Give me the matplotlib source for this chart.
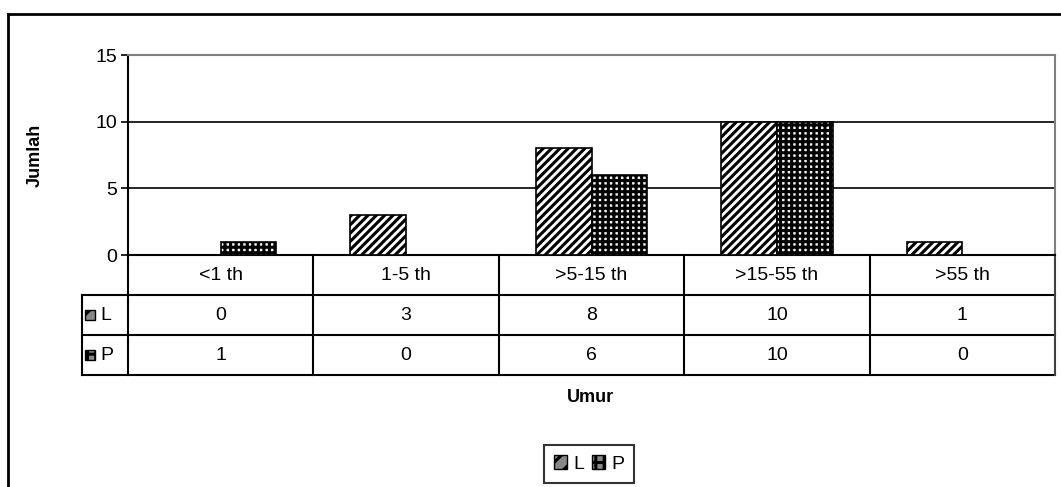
import matplotlib
matplotlib.use("Agg")
import matplotlib.pyplot as plt
from matplotlib.patches import Rectangle, Patch
from matplotlib.lines import Line2D
import matplotlib.transforms as mtransforms

categories = ["<1 th", "1-5 th", ">5-15 th", ">15-55 th", ">55 th"]
series_names = ["L", "P"]
L_values = [0, 3, 8, 10, 1]
P_values = [1, 0, 6, 10, 0]
y_ticks = [0, 5, 10, 15]

plt.rcParams['font.family'] = ['Liberation Sans', 'DejaVu Sans']
plt.rcParams['hatch.linewidth'] = 2.2

FS = 14
W, H = 1061, 487
fig = plt.figure(figsize=(W / 100, H / 100), dpi=100)
ax = fig.add_axes([128 / W, (H - 255) / H, (1055 - 128) / W, 200 / H])

n = len(categories)
bw = 0.30
for i in range(n):
    xc = i + 0.5
    if L_values[i] > 0:
        ax.bar(xc - bw / 2, L_values[i], width=bw, facecolor="white", edgecolor="black",
               hatch="////", linewidth=1.2, zorder=3)
    if P_values[i] > 0:
        ax.bar(xc + bw / 2, P_values[i], width=bw, facecolor="#f2f2f2",
               edgecolor="black", hatch="+++", linewidth=1.2, zorder=3)

ax.set_xlim(0, n)
ax.set_ylim(0, 15)
ax.set_yticks(y_ticks)
ax.set_xticks([])
ax.tick_params(axis="y", direction="out", length=5, width=1.2, labelsize=FS, pad=3)
for v in y_ticks[1:-1]:
    ax.axhline(v, color="black", linewidth=1.2, zorder=1)
for s in ['top', 'right']:
    ax.spines[s].set_color("#808080")
for s in ax.spines.values():
    s.set_linewidth(1.5)
ax.set_ylabel("Jumlah", fontsize=13, fontweight="bold", labelpad=37)

# data table below
tr = mtransforms.blended_transform_factory(ax.transData, ax.transAxes)
rh = 0.2
unit = (1055 - 128) / n
lab_w = 46 / unit
lw = 1.5
def hline(x0, x1, y, color="black"):
    ax.add_line(Line2D([x0, x1], [y, y], transform=tr, color=color, lw=lw, clip_on=False))
def vline(x, y0, y1, color="black"):
    ax.add_line(Line2D([x, x], [y0, y1], transform=tr, color=color, lw=lw, clip_on=False))

hline(-lab_w, n, -rh)
hline(-lab_w, n, -2 * rh)
hline(-lab_w, n, -3 * rh)
for i in range(n):
    vline(i, 0, -3 * rh)
vline(n, 0, -3 * rh, color="#404040")
vline(-lab_w, -rh, -3 * rh)

for i, c in enumerate(categories):
    ax.text(i + 0.5, -0.5 * rh, c, transform=tr, ha="center", va="center", fontsize=FS)
    ax.text(i + 0.5, -1.5 * rh, str(L_values[i]), transform=tr, ha="center", va="center", fontsize=FS)
    ax.text(i + 0.5, -2.5 * rh, str(P_values[i]), transform=tr, ha="center", va="center", fontsize=FS)

# row labels with icons
sq = 10 / unit
sqh = 10 / 200
icon_style = {"L": dict(facecolor="#888888", edgecolor="black", hatch="//"),
              "P": dict(facecolor="#888888", edgecolor="black", hatch="++")}
for r, name in enumerate(series_names):
    yc = -(1.5 + r) * rh
    x0 = -lab_w + 3 / unit
    p = Rectangle((x0, yc - sqh / 2), sq, sqh, transform=tr, lw=1.0, clip_on=False,
                  **icon_style[name])
    ax.add_patch(p)
    ax.text(x0 + sq + 5 / unit, yc, name, transform=tr, ha="left", va="center", fontsize=FS)

# x axis title
fig.text(590 / W, 1 - 397 / H, "Umur", ha="center", va="center", fontsize=13, fontweight="bold")

# legend
handles = [Patch(label=name, **icon_style[name]) for name in series_names]
leg = fig.legend(handles=handles, loc="center", bbox_to_anchor=(589 / W, 1 - 464 / H),
                 ncol=2, frameon=True, fancybox=False, fontsize=FS,
                 handlelength=0.7, handleheight=0.7, handletextpad=0.3,
                 columnspacing=0.4, borderpad=0.5, borderaxespad=0, edgecolor="black")
leg.get_frame().set_linewidth(1.5)

# outer frame (partially visible)
fig.add_artist(Line2D([8 / W, 1.0], [1 - 14 / H, 1 - 14 / H], transform=fig.transFigure,
                      color="black", lw=2))
fig.add_artist(Line2D([8 / W, 8 / W], [0, 1 - 14 / H], transform=fig.transFigure,
                      color="black", lw=2))

fig.savefig("out.png", dpi=100)
